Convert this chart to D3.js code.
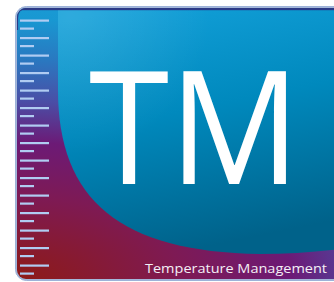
<!DOCTYPE html>
<html><head><meta charset="utf-8">
<script src="https://cdn.jsdelivr.net/npm/d3@7"></script>
<style>html,body{margin:0;padding:0;background:#fff;overflow:hidden}svg{display:block}</style>
</head><body>
<script>
const longTicks = d3.range(0, 15);
const shortTicks = d3.range(0, 15);
const titleText = "TM";
const subtitleText = "Temperature Management";

const W = 334, H = 282;
const svg = d3.select("body").append("svg").attr("width", W).attr("height", H);
const defs = svg.append("defs");

const bg = defs.append("radialGradient").attr("id", "bg")
  .attr("gradientUnits", "userSpaceOnUse")
  .attr("cx", 17).attr("cy", 280).attr("r", 275)
  .attr("gradientTransform", "translate(17,280) scale(2,1) translate(-17,-280)");
[[0, "#8e1a16"], [0.3, "#7e1a54"], [0.5, "#6c1a76"], [0.65, "#4a4ea6"], [0.8, "#2a78c0"], [0.95, "#1898d2"], [1, "#1a9ad4"]]
  .forEach(([o, c]) => bg.append("stop").attr("offset", o).attr("stop-color", c));

const blue = defs.append("linearGradient").attr("id", "blue")
  .attr("gradientUnits", "userSpaceOnUse")
  .attr("x1", 120).attr("y1", 10).attr("x2", 170).attr("y2", 254);
[[0, "#129fd8"], [0.45, "#0089bd"], [1, "#00628a"]]
  .forEach(([o, c]) => blue.append("stop").attr("offset", o).attr("stop-color", c));

const hl = defs.append("radialGradient").attr("id", "hl")
  .attr("gradientUnits", "userSpaceOnUse")
  .attr("cx", 70).attr("cy", 15).attr("r", 140);
hl.append("stop").attr("offset", 0).attr("stop-color", "#ffffff").attr("stop-opacity", 0.12);
hl.append("stop").attr("offset", 1).attr("stop-color", "#ffffff").attr("stop-opacity", 0);

defs.append("clipPath").attr("id", "clip").append("rect")
  .attr("x", 17).attr("y", 8).attr("width", 340).attr("height", 271).attr("rx", 9);

// frame
svg.append("rect").attr("x", 15.5).attr("y", 6.5).attr("width", 345).attr("height", 274)
  .attr("rx", 11).attr("fill", "#a4b7da").attr("stroke", "#9db2d8").attr("stroke-width", 1);

const g = svg.append("g").attr("clip-path", "url(#clip)");
g.append("rect").attr("x", 0).attr("y", 0).attr("width", W).attr("height", H).attr("fill", "url(#bg)");

const bluePath = d3.path();
bluePath.moveTo(58, 0);
bluePath.lineTo(58, 90);
bluePath.bezierCurveTo(58, 200, 120, 252, 260, 254);
bluePath.quadraticCurveTo(300, 254, 340, 249);
bluePath.lineTo(340, 0);
bluePath.closePath();
g.append("path").attr("d", bluePath.toString()).attr("fill", "url(#blue)");
g.append("path").attr("d", bluePath.toString()).attr("fill", "url(#hl)");

// top navy line
g.append("rect").attr("x", 0).attr("y", 8).attr("width", W).attr("height", 2.2).attr("fill", "#2c3a86");
g.append("path").attr("d", "M17,30 L17,18 Q17,8 27,8").attr("fill", "none")
  .attr("stroke", "#2c3a86").attr("stroke-width", 2.2);

// ticks
const y = d3.scaleLinear().domain([0, 14]).range([20.5, 265.5]);
g.selectAll(".lt").data(longTicks).join("rect").attr("class", "lt")
  .attr("x", 20).attr("y", d => y(d) - 1).attr("width", 29).attr("height", 2.2).attr("fill", "#b0ccf2");
g.selectAll(".st").data(shortTicks).join("rect").attr("class", "st")
  .attr("x", 20).attr("y", d => y(d) + 8 - 1).attr("width", 14).attr("height", 2.2).attr("fill", "#b0ccf2");

// text
svg.append("text").attr("x", 89).attr("y", 183.5).attr("fill", "#ffffff")
  .attr("font-family", "Open Sans").attr("font-size", 157).attr("textLength", 211)
  .attr("lengthAdjust", "spacingAndGlyphs").text(titleText);
svg.append("text").attr("x", 145).attr("y", 273).attr("fill", "#f4f0f6")
  .attr("font-family", "Open Sans").attr("font-size", 13.5).attr("textLength", 182)
  .attr("lengthAdjust", "spacingAndGlyphs").text(subtitleText);
</script>
</body></html>
